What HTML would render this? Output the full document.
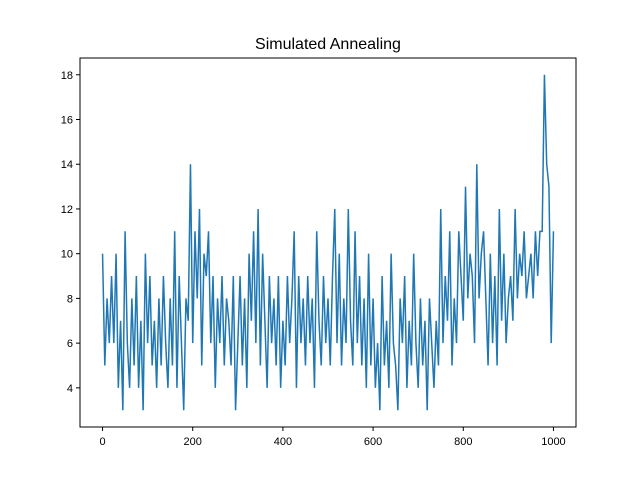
<!DOCTYPE html>
<html><head><meta charset="utf-8"><style>
body{margin:0;background:#fff}
svg{display:block;font-family:"Liberation Sans","DejaVu Sans",sans-serif}
</style></head><body>
<svg width="640" height="480">
<rect width="640" height="480" fill="#fff"/>
<text x="328" y="49" text-anchor="middle" font-size="16">Simulated Annealing</text>
<g id="plot"></g>
<rect x="80" y="58" width="496" height="369" fill="none" stroke="#000" stroke-width="1"/>
<g id="xt"></g><g id="yt"></g>
</svg>
<script>
const xStep = 5;
const values = [
10,5,8,6,9,6,10,4,7,3,
11,6,4,8,5,9,4,7,3,10,
6,9,5,7,4,8,5,9,6,4,
8,5,11,4,9,6,3,8,7,14,
6,11,8,12,5,10,9,11,6,9,
4,8,6,9,5,8,7,5,9,3,
6,9,5,8,4,10,7,11,6,12,
5,10,7,4,9,6,8,5,9,4,
7,5,9,6,8,11,4,9,6,8,
5,9,6,8,4,11,7,5,9,6,
8,5,9,12,6,10,5,8,6,12,
7,5,11,6,9,5,8,4,10,5,
8,4,6,3,9,5,7,4,10,6,
5,3,8,6,9,4,7,5,10,6,
4,8,5,7,3,8,6,4,7,5,
12,6,9,7,11,5,8,6,11,9,
7,13,8,10,9,6,14,8,10,11,
8,5,10,6,9,5,12,7,10,6,
8,9,7,12,8,10,9,11,8,9,
10,8,11,9,11,11,18,14,13,6,
11];
const xTicks = [0,200,400,600,800,1000];
const yTicks = [4,6,8,10,12,14,16,18];
const xMin=-50,xMax=1050,yMin=2.25,yMax=18.75;
const L=80,R=576,T=58,B=427;
const sx=v=>L+(v-xMin)/(xMax-xMin)*(R-L);
const sy=v=>B-(v-yMin)/(yMax-yMin)*(B-T);
const NS="http://www.w3.org/2000/svg";
const plot=document.getElementById('plot');
const line=document.createElementNS(NS,'polyline');
line.setAttribute('points',values.map((v,i)=>sx(i*xStep)+','+sy(v)).join(' '));
line.setAttribute('fill','none');line.setAttribute('stroke','#1f77b4');line.setAttribute('stroke-width','1.5');


plot.appendChild(line);
const xt=document.getElementById('xt');
xTicks.forEach(t=>{
 const x=sx(t);
 const l=document.createElementNS(NS,'line');
 l.setAttribute('x1',x);l.setAttribute('x2',x);l.setAttribute('y1',B);l.setAttribute('y2',B+4);l.setAttribute('stroke','#000');
 
 
 xt.appendChild(l);
 const tx=document.createElementNS(NS,'text');
 tx.setAttribute('x',x);tx.setAttribute('y',B+18);tx.setAttribute('text-anchor','middle');tx.setAttribute('font-size','11');
 tx.textContent=t;
 
 
 xt.appendChild(tx);
});
const yt=document.getElementById('yt');
yTicks.forEach(t=>{
 const y=sy(t);
 const l=document.createElementNS(NS,'line');
 l.setAttribute('x1',L-4);l.setAttribute('x2',L);l.setAttribute('y1',y);l.setAttribute('y2',y);l.setAttribute('stroke','#000');
 
 
 yt.appendChild(l);
 const tx=document.createElementNS(NS,'text');
 tx.setAttribute('x',L-7);tx.setAttribute('y',y+4);tx.setAttribute('text-anchor','end');tx.setAttribute('font-size','11');
 tx.textContent=t;
 
 
 yt.appendChild(tx);
});
</script>
</body></html>
